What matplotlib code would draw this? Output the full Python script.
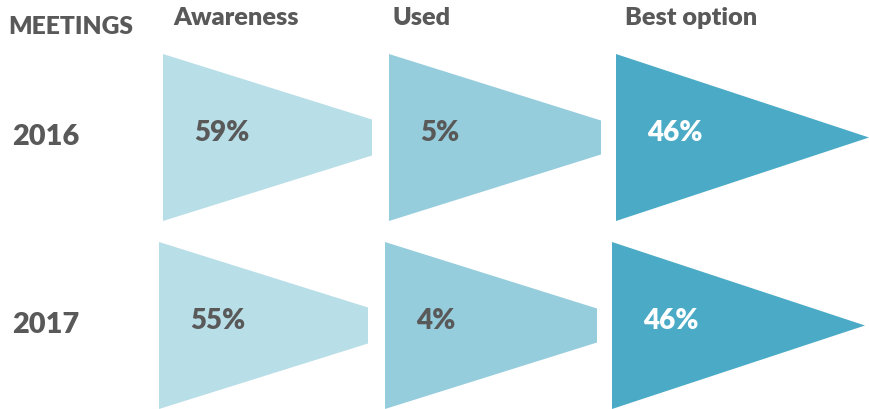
import matplotlib.pyplot as plt
from matplotlib.patches import Polygon

plt.rcParams['font.family'] = ['Lato', 'DejaVu Sans']

# data
years = ['2016', '2017']
stages = ['Awareness', 'Used', 'Best option']
values = [[59, 5, 46],
          [55, 4, 46]]

colors = ['#b8dee8', '#96cddd', '#4babc6']
label_colors = ['#595959', '#595959', 'white']
text_grey = '#595959'

fig = plt.figure(figsize=(8.69, 4.10), dpi=100)
ax = fig.add_axes([0, 0, 1, 1])
ax.set_xlim(0, 869)
ax.set_ylim(410, 0)
ax.axis('off')

# layout of the funnel pieces (pixels)
col_left = [[163, 389, 616], [159, 385, 612]]
row_top = [55, 243]
row_h = [167, 167]
piece_w = [209, 212, 253]
neck = [36, 34, 0]  # height of the narrow end

for r, year in enumerate(years):
    top = row_top[r]
    h = row_h[r]
    mid = top + h / 2
    ax.text(12, mid - 1, year, fontsize=20.8, fontweight='heavy', color=text_grey,
            ha='left', va='center')
    for c, stage in enumerate(stages):
        x0 = col_left[r][c]
        x1 = x0 + piece_w[c]
        n = neck[c] / 2
        pts = [(x0, top), (x1, mid - n), (x1, mid + n), (x0, top + h)]
        ax.add_patch(Polygon(pts, closed=True, facecolor=colors[c], edgecolor='none'))
        ax.text(x0 + 31, mid - 5, f'{values[r][c]}%', fontsize=20, fontweight='heavy',
                color=label_colors[c], ha='left', va='center')

ax.text(8, 27, 'MEETINGS', fontsize=17.7, fontweight='heavy', color=text_grey,
        ha='left', va='center')
head_x = [173, 393, 625]
for c, stage in enumerate(stages):
    ax.text(head_x[c], 18, stage, fontsize=18.2, fontweight='heavy', color=text_grey,
            ha='left', va='center')

fig.savefig('out.png', dpi=100)
